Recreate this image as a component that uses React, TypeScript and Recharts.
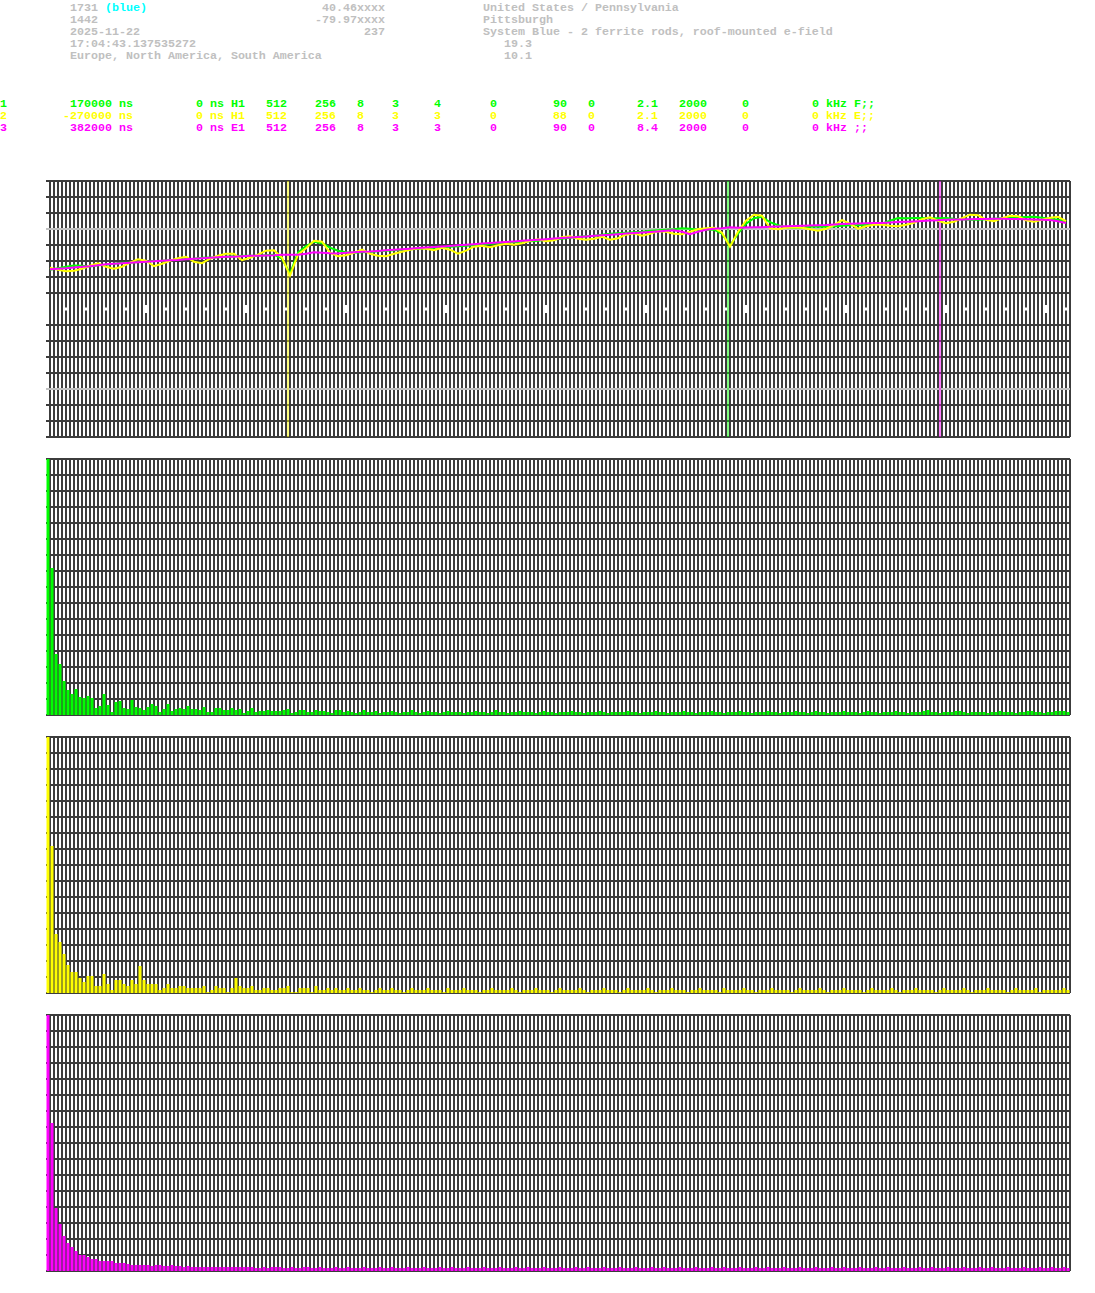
import React from 'react';
import { LineChart, Line, BarChart, Bar, XAxis, YAxis, CartesianGrid, ReferenceLine } from 'recharts';

// ---------- header text ----------
const headerLeft = ['1731', '1442', '2025-11-22', '17:04:43.137535272', 'Europe, North America, South America'];
const stationTag = '(blue)';
const headerMid = ['40.46xxxx', '-79.97xxxx', '237'];
const headerRight = ['United States / Pennsylvania', 'Pittsburgh', 'System Blue - 2 ferrite rods, roof-mounted e-field'];
const headerRightIndented = ['19.3', '10.1'];

// ---------- channel legend ----------
const channelIds = ['1', '2', '3'];
const channelOffsetsNs = [170000, -270000, 382000];
const channelColors = ['#00ff00', '#ffff00', '#ff00ff'];
const channelParams = [
  ['0 ns H1', '512', '256', '8', '3', '4', '0', '90', '0', '2.1', '2000', '0', '0 kHz F;;'],
  ['0 ns H1', '512', '256', '8', '3', '3', '0', '88', '0', '2.1', '2000', '0', '0 kHz E;;'],
  ['0 ns E1', '512', '256', '8', '3', '3', '0', '90', '0', '8.4', '2000', '0', '0 kHz ;;'],
];

// ---------- waveform traces (amplitude, one sample every 8 µs) ----------
const greenTrace = [
  39.3, 40.8, 42.3, 43.6, 43.3, 42.6, 43.8, 44.3, 45.3, 46.3,
  46.3, 47.0, 47.3, 48.0, 48.3, 48.8, 49.3, 50.0, 50.3, 51.3,
  51.6, 51.8, 52.3, 52.8, 53.3, 53.3, 53.3, 53.8, 54.3, 50.3,
  35.3, 56.3, 62.8, 67.3, 65.8, 61.3, 58.3, 56.8, 56.3, 56.8,
  57.0, 57.8, 58.3, 58.8, 59.3, 59.8, 60.3, 60.8, 61.3, 61.8,
  62.3, 62.8, 63.3, 63.8, 64.3, 65.3, 65.8, 66.3, 66.8, 67.3,
  67.8, 68.3, 69.3, 69.8, 70.3, 71.3, 72.3, 72.8, 73.3, 74.3,
  75.3, 75.8, 76.3, 76.8, 77.3, 78.3, 78.8, 79.3, 79.8, 80.8,
  80.3, 79.3, 79.3, 79.3, 75.3, 63.3, 75.3, 85.3, 90.8, 92.3,
  86.8, 83.8, 81.8, 81.3, 81.3, 82.3, 82.3, 82.3, 82.6, 83.3,
  83.8, 83.8, 84.3, 84.8, 85.3, 88.3, 91.0, 90.8, 91.0, 91.0,
  90.8, 90.8, 91.0, 90.3, 89.8, 89.3, 89.3, 89.8, 90.3, 90.8,
  91.3, 91.8, 92.0, 92.3, 91.3, 90.3, 89.3, 87.8,
];
const yellowTrace = [
  41.3, 39.3, 37.8, 38.3, 40.3, 43.3, 45.8, 42.3, 40.3, 42.3,
  46.3, 49.8, 48.3, 42.8, 45.3, 48.3, 50.8, 52.3, 47.3, 45.8,
  50.3, 53.3, 55.3, 55.3, 48.8, 51.3, 54.3, 58.3, 58.8, 51.3,
  33.3, 54.3, 60.8, 68.3, 67.3, 56.3, 52.8, 53.8, 56.3, 59.3,
  55.3, 53.3, 52.8, 55.3, 57.3, 59.3, 60.8, 60.3, 58.8, 61.3,
  59.3, 55.3, 58.3, 62.3, 63.3, 61.8, 63.8, 65.3, 64.3, 65.8,
  68.3, 69.8, 67.8, 68.8, 71.8, 72.8, 70.3, 69.3, 70.3, 72.3,
  69.3, 70.8, 74.3, 75.8, 73.3, 75.3, 77.8, 77.3, 75.3, 74.8,
  77.3, 79.8, 80.8, 81.3, 76.3, 62.3, 77.3, 88.3, 94.3, 93.3,
  80.8, 79.8, 81.3, 81.8, 81.3, 79.8, 78.3, 80.3, 83.8, 88.8,
  85.3, 80.3, 82.8, 84.3, 84.3, 83.3, 82.8, 84.3, 86.3, 89.8,
  91.8, 88.3, 85.8, 87.3, 90.8, 94.3, 93.8, 89.3, 87.8, 90.8,
  93.3, 92.8, 88.8, 87.3, 89.3, 91.3, 92.3, 87.8,
];
const magentaTrace = [
  39.8, 40.3, 40.8, 41.6, 42.3, 42.8, 43.8, 44.8, 45.3, 45.8,
  46.3, 46.8, 47.3, 47.8, 48.3, 48.8, 49.0, 49.8, 50.3, 50.8,
  51.3, 51.8, 52.3, 52.3, 52.8, 53.3, 53.3, 53.6, 53.8, 54.3,
  54.3, 54.3, 55.3, 56.8, 56.3, 55.8, 55.6, 56.3, 56.8, 57.3,
  57.6, 58.1, 58.7, 59.3, 59.8, 60.3, 60.9, 61.5, 62.0, 62.6,
  63.1, 63.7, 64.3, 64.8, 65.4, 65.9, 66.5, 67.0, 67.6, 68.2,
  68.7, 69.3, 69.8, 70.4, 70.9, 71.5, 72.1, 72.6, 73.2, 73.7,
  74.3, 74.8, 75.4, 76.0, 76.5, 77.1, 77.6, 78.2, 78.7, 77.3,
  74.8, 77.3, 79.3, 80.3, 80.8, 81.8, 81.3, 81.6, 81.8, 81.8,
  82.3, 82.6, 82.8, 83.0, 83.3, 83.5, 83.8, 84.0, 84.5, 85.0,
  85.3, 85.5, 85.8, 86.0, 86.1, 86.5, 87.0, 87.3, 87.6, 88.0,
  88.5, 88.8, 89.3, 89.5, 89.6, 89.8, 90.0, 90.1, 90.3, 90.3,
  90.1, 90.0, 89.8, 89.5, 89.3, 89.0, 87.8, 86.0,
];

// ---------- spectra (256 bins each) ----------
const greenBarsHead = [
  256, 147, 61, 51, 34, 25, 21, 26, 18, 17,
  19, 17, 7, 9, 21, 10, 3, 13, 14, 7,
  6, 15, 8, 7, 5, 8, 11, 9, 3, 6,
  11, 4, 6, 7, 6, 9, 6, 6, 5, 8,
  3, 3, 7, 7, 5, 5, 7, 5, 6, 2,
  4, 7, 3, 4, 4, 5, 4, 4, 4, 5,
  6, 2, 3, 5, 5, 3, 3, 5, 4, 4,
  3, 2, 5, 5,
];
const greenBarsTail = [
  3, 4, 3, 2, 3, 5, 3, 3, 4, 2, 3, 3, 4, 3, 2, 3, 3, 5, 3, 2,
  3, 4, 3, 3, 2, 3, 4, 3, 3, 3, 2, 3, 3, 4, 3, 3, 2, 3, 5, 3,
  3, 2, 3, 3, 4, 3, 3, 3, 2, 3, 4, 3, 3, 2, 3, 3, 3, 4, 3, 3,
  2, 3, 3, 3, 4, 3, 2, 3, 3, 3, 3, 4, 3, 3, 2, 3, 3, 3, 4, 3,
  3, 2, 3, 3, 3, 4, 3, 3, 2, 3, 3, 3, 4, 3, 3, 2, 3, 3, 3, 4,
  3, 3, 2, 3, 3, 3, 4, 3, 3, 2, 3, 3, 3, 4, 3, 3, 2, 3, 4, 3,
  3, 2, 3, 3, 3, 4, 3, 3, 3, 2, 3, 4, 3, 3, 2, 3, 3, 3, 4, 3,
  3, 2, 3, 3, 3, 4, 5, 3, 3, 2, 3, 3, 3, 4, 4, 3, 2, 3, 3, 3,
  3, 2, 3, 3, 4, 3, 3, 3, 2, 3, 3, 4, 4, 3, 3, 2, 3, 3, 4, 4,
  4, 3,
];
const yellowBarsHead = [
  256, 147, 59, 51, 39, 28, 21, 21, 15, 11,
  17, 17, 7, 7, 19, 9, 3, 13, 13, 9,
  7, 13, 9, 27, 13, 9, 9, 9, 3, 5,
  9, 5, 5, 7, 7, 5, 5, 5, 5, 7,
  1, 3, 7, 5, 5, 1, 5, 15, 7, 5,
  5, 7, 3, 3, 5, 5, 3, 3, 5, 5,
  7, 1, 1, 5, 5, 5, 1, 7, 3, 3,
  5, 3, 5, 3,
];
const yellowBarsTail = [
  3, 5, 3, 3, 5, 3, 3, 1, 3, 5, 3, 3, 5, 3, 3, 1, 3, 5, 3, 3,
  3, 5, 3, 3, 3, 1, 5, 3, 3, 3, 5, 3, 3, 3, 1, 3, 3, 5, 3, 3,
  3, 3, 5, 3, 1, 3, 3, 3, 5, 3, 3, 3, 1, 3, 5, 3, 3, 3, 3, 5,
  3, 1, 3, 3, 3, 5, 3, 3, 3, 1, 3, 5, 3, 3, 3, 3, 5, 3, 1, 3,
  3, 3, 5, 3, 3, 3, 1, 3, 3, 5, 3, 3, 3, 3, 1, 5, 3, 3, 3, 3,
  5, 3, 3, 1, 3, 3, 3, 5, 3, 3, 3, 3, 1, 3, 5, 3, 3, 3, 3, 5,
  3, 1, 3, 3, 3, 5, 3, 3, 3, 3, 1, 3, 5, 3, 3, 3, 3, 5, 3, 1,
  3, 3, 3, 5, 3, 3, 3, 3, 1, 3, 5, 3, 3, 3, 3, 5, 3, 1, 3, 3,
  3, 5, 3, 3, 3, 3, 1, 3, 5, 3, 3, 3, 3, 5, 1, 3, 3, 3, 3, 3,
  5, 3,
];
const magentaBarsHead = [
  256, 148, 63, 47, 35, 28, 24, 20, 16, 16,
  14, 12, 12, 10, 10, 10, 10, 8, 8, 8,
  7, 6, 6, 6, 6, 6, 5, 6, 6, 5,
  5, 6, 5, 5, 4, 5, 4, 4, 4, 4,
  4, 4, 4, 4, 4, 4, 4, 4, 4, 4,
  4, 4, 3, 3, 4, 3, 4, 4,
];
const magentaBarsTail = [
  4, 3, 3, 4, 3, 3, 4, 4, 3, 3, 4, 3, 3, 3, 4, 3, 3, 4, 3, 3,
  3, 4, 3, 3, 3, 4, 3, 3, 4, 3, 3, 3, 4, 3, 3, 3, 4, 3, 3, 3,
  4, 3, 3, 4, 3, 3, 3, 4, 3, 3, 3, 4, 3, 3, 3, 4, 3, 3, 3, 4,
  3, 3, 4, 3, 3, 3, 4, 3, 3, 3, 4, 3, 3, 3, 4, 3, 3, 4, 3, 3,
  3, 4, 3, 3, 3, 4, 3, 3, 3, 4, 3, 3, 3, 4, 3, 3, 4, 3, 3, 3,
  4, 3, 3, 3, 4, 3, 3, 3, 4, 3, 3, 4, 3, 3, 3, 4, 3, 3, 3, 4,
  3, 3, 4, 3, 3, 3, 4, 3, 3, 3, 4, 3, 3, 3, 4, 3, 3, 3, 4, 3,
  3, 4, 3, 3, 3, 4, 3, 3, 3, 4, 3, 3, 4, 3, 3, 3, 4, 3, 3, 3,
  4, 3, 3, 4, 3, 3, 3, 4, 3, 3, 3, 4, 3, 3, 3, 4, 3, 3, 4, 3,
  3, 3, 4, 3, 3, 3, 4, 3, 3, 3, 4, 3, 3, 4, 3, 3, 4, 3,
];

const greenBars = [...greenBarsHead, ...greenBarsTail];
const yellowBars = [...yellowBarsHead, ...yellowBarsTail];
const magentaBars = [...magentaBarsHead, ...magentaBarsTail];

// ---------- layout ----------
const CHART_W = 1095;
const PLOT_LEFT = 46;
const PLOT_W = 1024; // µs window, 1 px per µs
const PLOT_H = 256;
const PAD = 8;
const WINDOW_US = 1024;
const GRID = '#3c3c3c';
const TEXT_GRAY = '#c0c0c0';
const FONT = '"Liberation Mono", "DejaVu Sans Mono", monospace';
const CW = 7; // character cell width

const margin = { top: PAD, bottom: PAD, left: PLOT_LEFT, right: CHART_W - PLOT_LEFT - PLOT_W };

const gridCols: number[] = [];
for (let t = 4; t <= WINDOW_US; t += 4) gridCols.push(t);
const traceRowsDark = [-128, -112, -96, -64, -48, -32, -16, 16, 32, 48, 64, 96, 112, 128];
const barRows: number[] = [];
for (let v = 0; v <= 256; v += 16) barRows.push(v);
const timeTicks: number[] = [];
for (let t = 20; t < WINDOW_US; t += 20) timeTicks.push(t);

const traceData = greenTrace.map((g, i) => ({ t: 4 + 8 * i, g, y: yellowTrace[i], m: magentaTrace[i] }));

// grid coordinate generators: map axis values through the axis scale
const vGen = (values: number[], domain: [number, number]) => (p: any) => {
  const sc = p?.xAxis?.scale;
  if (typeof sc === 'function') return values.map((v) => sc(v));
  const o = p.offset;
  return values.map((v) => o.left + ((v - domain[0]) / (domain[1] - domain[0])) * o.width);
};
const hGen = (values: number[], domain: [number, number]) => (p: any) => {
  const sc = p?.yAxis?.scale;
  if (typeof sc === 'function') return values.map((v) => sc(v));
  const o = p.offset;
  return values.map((v) => o.top + (1 - (v - domain[0]) / (domain[1] - domain[0])) * o.height);
};

const X_DOMAIN: [number, number] = [0, WINDOW_US];
const BAR_Y: [number, number] = [0, 256];
const TRACE_Y: [number, number] = [-128, 128];

function BarPanel({ values, color, top }: { values: number[]; color: string; top: number }) {
  const data = values.map((v, i) => ({ t: 1.5 + 4 * i, v }));
  return (
    <div style={{ position: 'absolute', left: 0, top: top - PAD }}>
      <BarChart width={CHART_W} height={PLOT_H + 2 * PAD} data={data} margin={margin} barGap={0} barCategoryGap={0}>
        <XAxis type="number" dataKey="t" domain={X_DOMAIN} hide allowDataOverflow />
        <YAxis type="number" domain={BAR_Y} hide allowDataOverflow />
        <CartesianGrid
          horizontalCoordinatesGenerator={hGen(barRows, BAR_Y)}
          verticalCoordinatesGenerator={vGen(gridCols, X_DOMAIN)}
          stroke={GRID}
          strokeWidth={2}
        />
        <Bar dataKey="v" fill={color} barSize={3} isAnimationActive={false} />
      </BarChart>
    </div>
  );
}

function TracePanel({ top }: { top: number }) {
  return (
    <div style={{ position: 'absolute', left: 0, top: top - PAD }}>
      <LineChart width={CHART_W} height={PLOT_H + 2 * PAD} data={traceData} margin={margin}>
        <XAxis type="number" dataKey="t" domain={X_DOMAIN} hide allowDataOverflow />
        <YAxis type="number" domain={TRACE_Y} hide allowDataOverflow />
        <CartesianGrid vertical={false} horizontalCoordinatesGenerator={hGen([0], TRACE_Y)} stroke="#ffffff" strokeWidth={2} />
        <CartesianGrid
          horizontalCoordinatesGenerator={hGen(traceRowsDark, TRACE_Y)}
          verticalCoordinatesGenerator={vGen(gridCols, X_DOMAIN)}
          stroke={GRID}
          strokeWidth={2}
        />
        <ReferenceLine y={80} stroke="#c0c0c0" strokeWidth={2} />
        <ReferenceLine y={-80} stroke="#c0c0c0" strokeWidth={2} />
        {timeTicks.map((t) => {
          const big = t % 100 === 0;
          const h = big ? 4 : 1.5;
          return (
            <ReferenceLine
              key={'tk' + t}
              segment={[{ x: t, y: -h }, { x: t, y: h }]}
              stroke="#ffffff"
              strokeWidth={big ? 3 : 2}
            />
          );
        })}
        {channelOffsetsNs.map((ns, i) => (
          <ReferenceLine key={'mk' + i} x={WINDOW_US / 2 + ns / 1000} stroke={channelColors[i]} strokeWidth={1} />
        ))}
        <Line type="linear" dataKey="g" stroke={channelColors[0]} strokeWidth={2} dot={false} isAnimationActive={false} />
        <Line type="linear" dataKey="y" stroke={channelColors[1]} strokeWidth={2} dot={false} isAnimationActive={false} />
        <Line type="linear" dataKey="m" stroke={channelColors[2]} strokeWidth={2} dot={false} isAnimationActive={false} />
      </LineChart>
    </div>
  );
}

const paramCols = [28, 38, 45, 51, 56, 62, 70, 79, 84, 91, 97, 106, 116];

function Header() {
  const base = 11;
  const pitch = 12;
  const legendBase = 107;
  const t = (key: string, x: number, y: number, s: string, fill: string, anchor: 'start' | 'end' = 'start') => (
    <text key={key} x={x} y={y} fill={fill} textAnchor={anchor} style={{ whiteSpace: 'pre' }}>
      {s}
    </text>
  );
  const items: React.ReactNode[] = [];
  headerLeft.forEach((s, i) => items.push(t('hl' + i, 10 * CW, base + i * pitch, s, TEXT_GRAY)));
  items.push(t('tag', 15 * CW, base, stationTag, '#00ffff'));
  headerMid.forEach((s, i) => items.push(t('hm' + i, 55 * CW, base + i * pitch, s, TEXT_GRAY, 'end')));
  headerRight.forEach((s, i) => items.push(t('hr' + i, 69 * CW, base + i * pitch, s, TEXT_GRAY)));
  headerRightIndented.forEach((s, i) => items.push(t('hri' + i, 72 * CW, base + (i + 3) * pitch, s, TEXT_GRAY)));
  channelIds.forEach((id, r) => {
    const y = legendBase + r * pitch;
    const c = channelColors[r];
    items.push(t('id' + r, 0, y, id, c));
    items.push(t('off' + r, 19 * CW, y, `${channelOffsetsNs[r]} ns`, c, 'end'));
    channelParams[r].forEach((p, j) => items.push(t('p' + r + '_' + j, paramCols[j] * CW, y, p, c)));
  });
  return (
    <svg width={CHART_W} height={140} style={{ position: 'absolute', left: 0, top: 0 }}
      fontFamily={FONT} fontSize={11.67} fontWeight="bold">
      {items}
    </svg>
  );
}

export default function App() {
  return (
    <div style={{ position: 'absolute', left: 0, top: 0, width: CHART_W, height: 1293, background: '#ffffff', overflow: 'hidden' }}>
      <Header />
      <TracePanel top={181} />
      <BarPanel values={greenBars} color={channelColors[0]} top={459} />
      <BarPanel values={yellowBars} color={channelColors[1]} top={737} />
      <BarPanel values={magentaBars} color={channelColors[2]} top={1015} />
    </div>
  );
}
